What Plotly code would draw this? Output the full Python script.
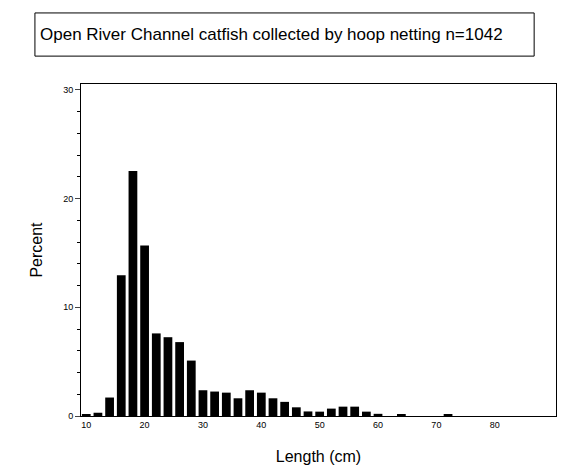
import plotly.graph_objects as go

lengths = [10,12,14,16,18,20,22,24,26,28,30,32,34,36,38,40,42,44,46,48,50,52,54,56,58,60,62,64,66,68,70,72]
percent = [0.12,0.3,1.7,12.95,22.55,15.7,7.6,7.25,6.8,5.1,2.37,2.25,2.15,1.63,2.37,2.15,1.63,1.3,0.8,0.42,0.4,0.68,0.86,0.86,0.4,0.2,0,0.1,0,0,0,0.1]
xticks = [10,20,30,40,50,60,70,80]
yticks = [0,10,20,30]

fig = go.Figure(go.Bar(x=lengths, y=percent, width=1.5, marker=dict(color="black", line=dict(width=0))))
F = "Liberation Sans, Arial, sans-serif"
fig.update_layout(
    width=570, height=475, paper_bgcolor="white", plot_bgcolor="white",
    margin=dict(l=73, r=22, t=76, b=67, pad=0, autoexpand=False), showlegend=False,
    font=dict(family=F, color="black"),
    shapes=[dict(type="rect", xref="paper", yref="paper", x0=-0.097, x1=0.954, y0=1.084, y1=1.214,
                 line=dict(color="black", width=1))],
    annotations=[dict(text="Open River Channel catfish collected by hoop netting n=1042", xref="paper", yref="paper",
                      x=0.4, y=1.149, showarrow=False, font=dict(size=17, family=F), xanchor="center", yanchor="middle")],
)
fig.update_xaxes(range=[9.1, 90.5], tickvals=xticks, showgrid=False, zeroline=False, showline=True, mirror=True,
                 linecolor="black", linewidth=1, ticks="", tickfont=dict(size=9), automargin=False,
                 title=dict(text="Length (cm)", font=dict(size=16), standoff=22))
fig.update_yaxes(range=[0, 30.55], tickvals=yticks, showgrid=False, zeroline=False, showline=True, mirror=True,
                 linecolor="black", linewidth=1, ticks="outside", ticklen=5, tickfont=dict(size=9), automargin=False,
                 minor=dict(dtick=2, ticks="outside", ticklen=3, tickcolor="black"),
                 title=dict(text="Percent", font=dict(size=16), standoff=16))
fig.write_html("out.html")
